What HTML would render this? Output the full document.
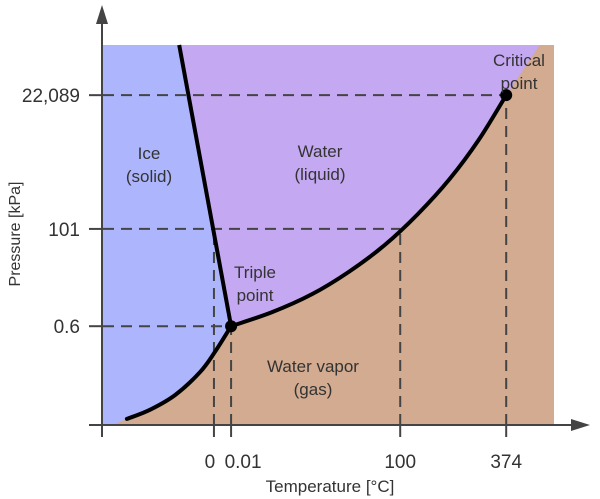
<!DOCTYPE html>
<html><head><meta charset="utf-8"><style>
html,body{margin:0;padding:0;background:#fff;}
svg{display:block;font-family:"Liberation Sans","DejaVu Sans",sans-serif;}
</style></head><body>
<svg id="chart" width="600" height="499" viewBox="0 0 600 499">
<g id="regions"></g>
<g id="guides"></g>
<g id="curves"></g>
<g id="axes"></g>
<g id="labels"></g>
</svg>
<script>
// Data in normalized diagram coordinates (0..1 horizontal, 0..1 vertical)
const xTickLabels = ["0", "0.01", "100", "374"];
const xTickValues = [0.246, 0.284, 0.659, 0.894];
const yTickLabels = ["0.6", "101", "22,089"];
const yTickValues = [0.260, 0.516, 0.868];
const fusionX = [0.169, 0.284];
const fusionY = [1.0, 0.260];
const sublimX = [0.053, 0.104, 0.160, 0.215, 0.248, 0.284];
const sublimY = [0.016, 0.040, 0.079, 0.139, 0.192, 0.260];
const vaporX = [0.284, 0.375, 0.463, 0.545, 0.624, 0.698, 0.769, 0.834, 0.894];
const vaporY = [0.260, 0.297, 0.344, 0.403, 0.473, 0.555, 0.648, 0.752, 0.868];
const superX = [0.894, 0.968];
const superY = [0.868, 1.0];

const L=103,R=554,T=45,B=425;
const sx=u=>L+u*(R-L);
const sy=v=>B-v*(B-T);
const NS="http://www.w3.org/2000/svg";
function mk(tag,attrs,parent){const e=document.createElementNS(NS,tag);for(const k in attrs)e.setAttribute(k,attrs[k]);parent.appendChild(e);return e;}
const pts=(xs,ys)=>xs.map((x,i)=>sx(x).toFixed(1)+","+sy(ys[i]).toFixed(1));
function smooth(xs,ys){
  const p=xs.map((x,i)=>[sx(x),sy(ys[i])]);
  let d="M"+p[0][0]+","+p[0][1];
  for(let i=0;i<p.length-1;i++){
    const p0=p[i-1]||p[i],p1=p[i],p2=p[i+1],p3=p[i+2]||p2;
    const c1=[p1[0]+(p2[0]-p0[0])/6,p1[1]+(p2[1]-p0[1])/6];
    const c2=[p2[0]-(p3[0]-p1[0])/6,p2[1]-(p3[1]-p1[1])/6];
    d+=" C"+c1+" "+c2+" "+p2;
  }
  return d;
}
const reg=document.getElementById('regions');
let r;
r=mk('rect',{x:L,y:T,width:R-L,height:B-T,fill:'#d2ab90'},reg);


const vp=smooth(vaporX,vaporY);
r=mk('path',{d:"M"+sx(fusionX[0])+","+sy(fusionY[0])+" L"+sx(vaporX[0])+","+sy(vaporY[0])+" "+vp.replace(/^M[^ ]+/,'')+" L"+sx(superX[1])+","+sy(superY[1])+" Z",fill:'#c4a8f1'},reg);


const sp=smooth(sublimX,sublimY);
r=mk('path',{d:sp+" L"+sx(fusionX[0])+","+sy(fusionY[0])+" L"+L+","+T+" L"+L+","+B+" L"+sx(0.02)+","+B+" Z",fill:'#adb6fd'},reg);



const g=document.getElementById('guides');
const dash={stroke:'#444','stroke-width':2,'stroke-dasharray':'11 7',fill:'none'};
const xGuideTop=[0.516,0.260,0.516,0.868];
xTickValues.forEach((u,i)=>{
  let e=mk('line',Object.assign({x1:sx(u),x2:sx(u),y1:B,y2:sy(xGuideTop[i])},dash),g);
  
  
});
const yGuideRight=[0.284,0.659,0.894];
yTickValues.forEach((v,i)=>{
  let e=mk('line',Object.assign({x1:L,x2:sx(yGuideRight[i]),y1:sy(v),y2:sy(v)},dash),g);
  
  
});

const c=document.getElementById('curves');
let e;
e=mk('path',{d:sp,stroke:'#000','stroke-width':4,fill:'none','stroke-linecap':'round'},c);


e=mk('path',{d:vp,stroke:'#000','stroke-width':4,fill:'none','stroke-linecap':'round'},c);


e=mk('polyline',{points:pts(fusionX,fusionY).join(' '),stroke:'#000','stroke-width':4,fill:'none'},c);


e=mk('circle',{cx:sx(fusionX[1]),cy:sy(fusionY[1]),r:6,fill:'#000'},c);


e=mk('circle',{cx:sx(vaporX[vaporX.length-1]),cy:sy(vaporY[vaporY.length-1]),r:6,fill:'#000'},c);



const a=document.getElementById('axes');
e=mk('line',{x1:L-1,y1:437,x2:L-1,y2:20,stroke:'#444','stroke-width':2},a);


e=mk('polygon',{points:(L-1)+",5 "+(L-7)+",24 "+(L+5)+",24",fill:'#444'},a);


e=mk('line',{x1:89,y1:B,x2:572,y2:B,stroke:'#444','stroke-width':2},a);


e=mk('polygon',{points:"590,"+B+" 571,"+(B-6)+" 571,"+(B+6),fill:'#444'},a);


xTickValues.forEach((u,i)=>{
  let t=mk('line',{x1:sx(u),x2:sx(u),y1:B,y2:B+12,stroke:'#444','stroke-width':2},a);
  
  
  let tx=mk('text',{x:sx(u)+(i===0?-4:i===1?12:0),y:468,'text-anchor':'middle','font-size':19,fill:'#333'},a);
  tx.textContent=xTickLabels[i];
  
  
});
yTickValues.forEach((v,i)=>{
  let t=mk('line',{x1:89,x2:L,y1:sy(v),y2:sy(v),stroke:'#444','stroke-width':2},a);
  
  
  let tx=mk('text',{x:80,y:sy(v)+7,'text-anchor':'end','font-size':19,fill:'#333'},a);
  tx.textContent=yTickLabels[i];
  
  
});
mk('line',{x1:L-1,x2:L-1,y1:B,y2:437,stroke:'#444','stroke-width':2},a);

const lb=document.getElementById('labels');
function txt(x,y,lines,name,size){
  const t=mk('text',{x:x,y:y,'text-anchor':'middle','font-size':size||17,fill:'#333'},lb);
  lines.forEach((s,i)=>{const ts=mk('tspan',{x:x,dy:i?23:0},t);ts.textContent=s;});
  
  
}
txt(149,159,["Ice","(solid)"],'ice-label');
txt(320,157,["Water","(liquid)"],'water-label');
txt(255,278,["Triple","point"],'triple-point-label');
txt(313,372,["Water vapor","(gas)"],'vapor-label');
txt(519,66,["Critical","point"],'critical-point-label');
txt(330,492,["Temperature [°C]"],'x-axis-title',17);
const yt=mk('text',{x:0,y:0,'text-anchor':'middle','font-size':16,fill:'#333',transform:'translate(20,234) rotate(-90)'},lb);
yt.textContent='Pressure [kPa]';


</script>
</body></html>
